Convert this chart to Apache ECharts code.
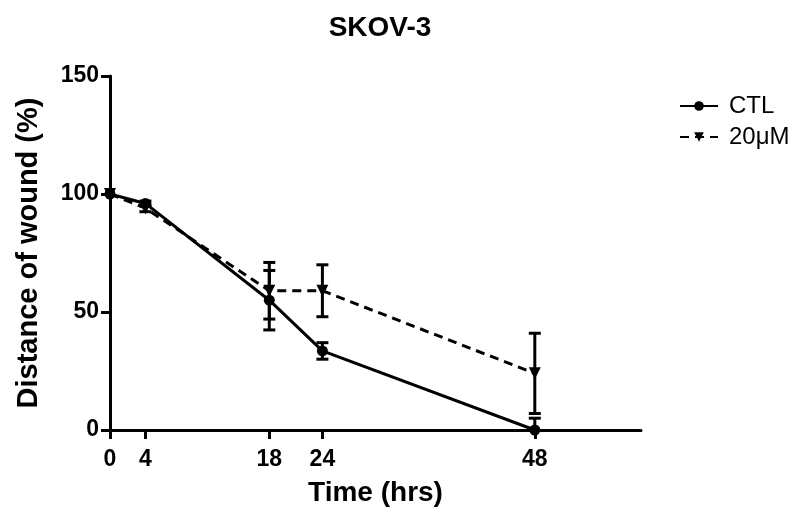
<!DOCTYPE html>
<html>
<head>
<meta charset="utf-8">
<script src="https://cdn.jsdelivr.net/npm/echarts@6/dist/echarts.min.js"></script>
<style>html,body{margin:0;padding:0;background:#fff;}#chart{width:808px;height:513px;}</style>
</head>
<body>
<div id="chart"></div>
<script>
const times = [0, 4, 18, 24, 48];
const xTicks = [0, 4, 18, 24, 48];
const yTicks = [0, 50, 100, 150];
const seriesNames = ['CTL', '20μM'];
const ctlMean = [100, 96, 55, 33.5, 0];
const ctlErr = [0, 1, 12.6, 3.5, 5];
const drugMean = [100, 94, 59, 59, 24];
const drugErr = [0, 1.5, 12, 11, 17];

const FONT = '"Liberation Sans", Arial, sans-serif';
const chart = echarts.init(document.getElementById('chart'), null, {renderer: 'canvas'});

function pts(means) { return times.map((t, i) => [t, means[i]]); }
function errPts(means, errs) { return times.map((t, i) => [t, means[i], errs[i]]); }

function renderErr(params, api) {
  const x = api.value(0), m = api.value(1), e = api.value(2);
  if (!e) return null;
  const hi = m + e;
  const lo = Math.max(m - e, 0);
  const pTop = api.coord([x, hi]);
  const pBot = api.coord([x, lo]);
  const cw = 6;
  const style = {stroke: '#000', lineWidth: 3};
  const children = [
    {type: 'line', shape: {x1: pTop[0], y1: pTop[1], x2: pBot[0], y2: pBot[1]}, style: style},
    {type: 'line', shape: {x1: pTop[0] - cw, y1: pTop[1], x2: pTop[0] + cw, y2: pTop[1]}, style: style}
  ];
  if (m - e >= 0) {
    children.push({type: 'line', shape: {x1: pBot[0] - cw, y1: pBot[1], x2: pBot[0] + cw, y2: pBot[1]}, style: style});
  }
  return {type: 'group', children: children};
}

const option = {
  animation: false,
  backgroundColor: '#fff',
  title: {
    text: 'SKOV-3', left: 375, top: 9, textAlign: 'center',
    textStyle: {fontFamily: FONT, fontWeight: 'bold', fontSize: 28, color: '#000'}
  },
  legend: {
    orient: 'vertical', left: 674, top: 89,
    itemWidth: 38, itemHeight: 12, itemGap: 7,
    data: seriesNames,
    textStyle: {fontFamily: FONT, fontSize: 24, color: '#000', lineHeight: 24, padding: [0, 0, 0, 6]}
  },
  grid: {left: 110, right: 167, top: 76, bottom: 83, containLabel: false},
  xAxis: {
    type: 'value', min: 0, max: 60,
    name: 'Time (hrs)', nameLocation: 'middle', nameGap: 49,
    nameTextStyle: {fontFamily: FONT, fontWeight: 'bold', fontSize: 28, color: '#000'},
    axisLine: {lineStyle: {color: '#000', width: 3}},
    axisTick: {show: true, length: 9, lineStyle: {color: '#000', width: 3}, customValues: xTicks},
    axisLabel: {customValues: xTicks, margin: 18, fontFamily: FONT, fontWeight: 'bold', fontSize: 23, color: '#000'},
    splitLine: {show: false}
  },
  yAxis: {
    type: 'value', min: 0, max: 150, interval: 50,
    name: 'Distance of wound (%)', nameLocation: 'middle', nameGap: 67,
    nameTextStyle: {fontFamily: FONT, fontWeight: 'bold', fontSize: 29, color: '#000'},
    axisLine: {show: true, lineStyle: {color: '#000', width: 3}},
    axisTick: {show: true, length: 9, lineStyle: {color: '#000', width: 3}},
    axisLabel: {margin: 11, fontFamily: FONT, fontWeight: 'bold', fontSize: 23, color: '#000'},
    splitLine: {show: false}
  },
  series: [
    {
      name: seriesNames[0], type: 'line', data: pts(ctlMean),
      symbol: 'circle', symbolSize: 11,
      itemStyle: {color: '#000'},
      lineStyle: {color: '#000', width: 3, type: 'solid'},
      z: 3
    },
    {
      name: seriesNames[1], type: 'line', data: pts(drugMean),
      symbol: 'triangle', symbolSize: 12, symbolRotate: 180,
      itemStyle: {color: '#000'},
      lineStyle: {color: '#000', width: 3, type: [9, 6]},
      z: 3
    },
    {
      type: 'custom', name: 'ctlErr', renderItem: renderErr, data: errPts(ctlMean, ctlErr),
      encode: {x: 0, y: 1}, z: 2, silent: true
    },
    {
      type: 'custom', name: 'drugErr', renderItem: renderErr, data: errPts(drugMean, drugErr),
      encode: {x: 0, y: 1}, z: 2, silent: true
    }
  ]
};
chart.setOption(option);
</script>
</body>
</html>
